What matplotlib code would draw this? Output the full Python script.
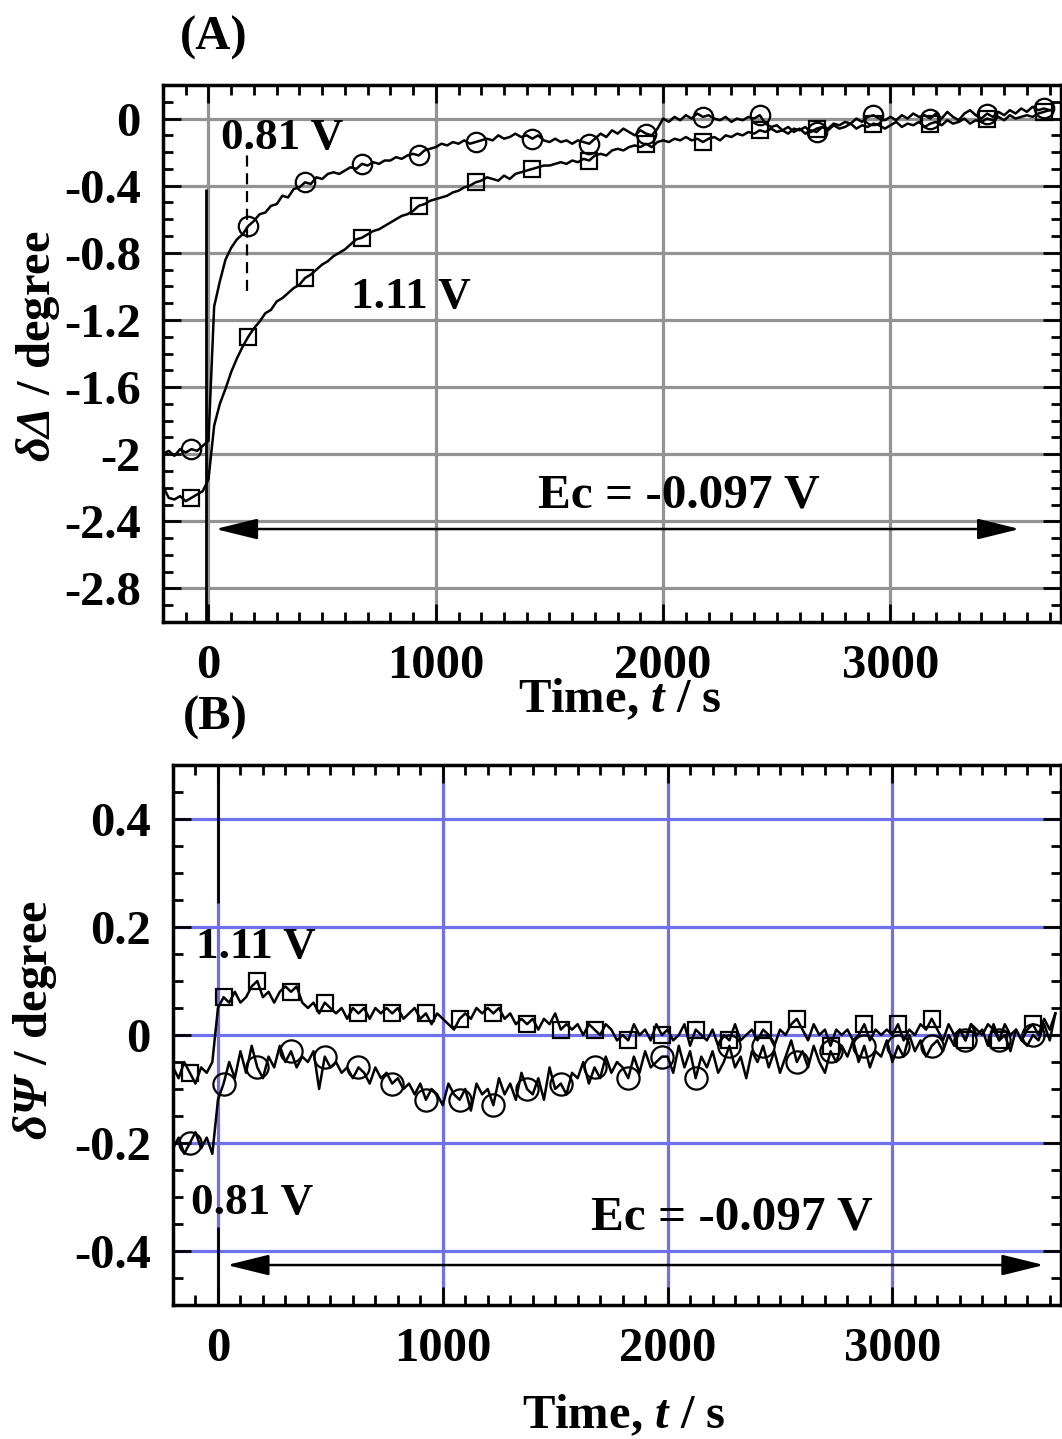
import matplotlib

matplotlib.use("Agg")
import matplotlib.pyplot as plt
import numpy as np
from matplotlib.ticker import FuncFormatter, MultipleLocator

plt.rcParams["font.family"] = "Liberation Serif"
plt.rcParams["font.weight"] = "bold"
plt.rcParams["axes.labelweight"] = "bold"
plt.rcParams["axes.unicode_minus"] = False
plt.rcParams["mathtext.fontset"] = "custom"
plt.rcParams["mathtext.rm"] = "Liberation Serif:italic:bold"
plt.rcParams["mathtext.it"] = "Liberation Serif:italic:bold"
plt.rcParams["mathtext.bf"] = "Liberation Serif:bold"

# time grid (s), one sample every 25 s
time_a = np.arange(-200, 3701, 25)
time_b = np.arange(-200, 3726, 25)

# (A) delta Delta / degree
delta_081 = [
    -2.00, -1.98, -2.01, -1.97, -1.99, -1.97, -1.98, -1.95,
    -1.92, -1.12, -0.97, -0.84, -0.77, -0.72, -0.69, -0.64,
    -0.61, -0.57, -0.56, -0.52, -0.51, -0.46, -0.47, -0.42,
    -0.41, -0.38, -0.39, -0.35, -0.36, -0.33, -0.32, -0.33,
    -0.31, -0.29, -0.30, -0.27, -0.28, -0.26, -0.27, -0.25,
    -0.25, -0.23, -0.24, -0.22, -0.21, -0.22, -0.19, -0.18,
    -0.17, -0.15, -0.16, -0.14, -0.15, -0.13, -0.15, -0.14,
    -0.13, -0.12, -0.13, -0.10, -0.12, -0.11, -0.09, -0.11,
    -0.10, -0.12, -0.10, -0.13, -0.14, -0.12, -0.14, -0.13,
    -0.15, -0.13, -0.14, -0.15, -0.12, -0.09, -0.11, -0.07,
    -0.09, -0.06, -0.08, -0.10, -0.07, -0.09, -0.10, -0.06,
    0.00, -0.02, 0.01, -0.01, 0.02, 0.00, 0.03, 0.01,
    0.02, 0.00, -0.01, 0.01, -0.02, 0.00, -0.01, 0.01,
    0.00, 0.02, -0.03, -0.05, -0.04, -0.07, -0.05, -0.08,
    -0.06, -0.09, -0.07, -0.08, -0.05, -0.06, -0.03, -0.04,
    -0.02, -0.03, 0.00, -0.02, 0.01, 0.02, 0.00, -0.01,
    0.01, -0.01, 0.02, 0.00, 0.03, 0.01, 0.02, 0.00,
    0.03, 0.00, 0.04, 0.01, -0.01, 0.03, 0.05, 0.02,
    0.00, 0.03, 0.01, 0.04, 0.02, 0.05, 0.03, 0.06,
    0.04, 0.07, 0.05, 0.06, 0.05,
]
delta_111 = [
    -2.19, -2.26, -2.27, -2.25, -2.28, -2.26, -2.24, -2.22,
    -2.15, -1.83, -1.70, -1.61, -1.51, -1.43, -1.36, -1.30,
    -1.25, -1.21, -1.16, -1.14, -1.09, -1.07, -1.04, -1.01,
    -0.99, -0.95, -0.93, -0.90, -0.87, -0.85, -0.82, -0.80,
    -0.78, -0.75, -0.72, -0.71, -0.69, -0.67, -0.66, -0.64,
    -0.62, -0.60, -0.58, -0.57, -0.55, -0.52, -0.51, -0.49,
    -0.48, -0.47, -0.46, -0.44, -0.43, -0.41, -0.40, -0.38,
    -0.37, -0.35, -0.36, -0.37, -0.34, -0.36, -0.33, -0.32,
    -0.31, -0.30, -0.29, -0.28, -0.28, -0.27, -0.26, -0.27,
    -0.25, -0.26, -0.24, -0.25, -0.22, -0.21, -0.22, -0.19,
    -0.18, -0.19, -0.17, -0.16, -0.17, -0.15, -0.17, -0.14,
    -0.13, -0.14, -0.12, -0.13, -0.11, -0.13, -0.12, -0.14,
    -0.12, -0.11, -0.13, -0.10, -0.11, -0.09, -0.10, -0.08,
    -0.09, -0.07, -0.08, -0.06, -0.08, -0.07, -0.09, -0.06,
    -0.07, -0.05, -0.08, -0.06, -0.05, -0.07, -0.04, -0.06,
    -0.05, -0.03, -0.06, -0.04, -0.05, -0.03, -0.04, -0.06,
    -0.04, -0.02, -0.05, -0.03, -0.04, -0.02, -0.05, -0.03,
    -0.02, -0.04, -0.01, -0.03, -0.02, 0.00, -0.03, -0.01,
    -0.02, 0.00, -0.01, 0.01, -0.01, 0.02, 0.00, 0.01,
    0.02, 0.01, 0.03, 0.04, 0.05,
]

# (B) delta Psi / degree
psi_081 = [
    -0.21, -0.19, -0.22, -0.20, -0.18, -0.21, -0.19, -0.22,
    -0.12, -0.09, -0.05, -0.08, -0.03, -0.07, -0.02, -0.06,
    -0.08, -0.04, -0.06, -0.02, -0.05, -0.03, -0.06, -0.04,
    -0.05, -0.03, -0.10, -0.04, -0.06, -0.05, -0.07, -0.06,
    -0.08, -0.06, -0.07, -0.09, -0.06, -0.08, -0.07, -0.09,
    -0.08, -0.10, -0.09, -0.11, -0.09, -0.12, -0.10, -0.11,
    -0.13, -0.09, -0.11, -0.12, -0.10, -0.14, -0.09, -0.11,
    -0.10, -0.13, -0.08, -0.11, -0.09, -0.12, -0.07, -0.10,
    -0.11, -0.08, -0.12, -0.06, -0.10, -0.09, -0.11, -0.07,
    -0.08, -0.05, -0.09, -0.06, -0.08, -0.04, -0.07, -0.05,
    -0.06, -0.08, -0.04, -0.07, -0.03, -0.06, -0.05, -0.04,
    -0.04, -0.07, -0.02, -0.06, -0.03, -0.08, -0.04, -0.06,
    -0.03, -0.07, -0.05, -0.02, -0.06, -0.04, -0.08, -0.03,
    -0.05, -0.02, -0.06, -0.03, -0.07, -0.04, -0.01, -0.05,
    -0.03, -0.06, -0.02, -0.05, -0.07, -0.03, -0.05, -0.02,
    -0.04, -0.01, -0.05, -0.02, -0.06, -0.03, -0.04, -0.01,
    -0.05, -0.02, -0.04, 0.00, -0.03, -0.01, -0.04, -0.02,
    -0.01, -0.03, 0.00, -0.02, 0.01, -0.01, 0.02, 0.00,
    0.01, -0.02, 0.02, -0.01, 0.00, -0.03, 0.01, -0.01,
    -0.02, 0.00, -0.01, 0.02, -0.01, 0.04,
]
psi_111 = [
    -0.06, -0.08, -0.05, -0.07, -0.09, -0.06, -0.07, -0.05,
    0.05, 0.07, 0.06, 0.08, 0.06, 0.07, 0.09, 0.10,
    0.07, 0.08, 0.06, 0.08, 0.09, 0.08, 0.09, 0.06,
    0.05, 0.06, 0.04, 0.06, 0.05, 0.04, 0.05, 0.03,
    0.05, 0.04, 0.05, 0.03, 0.05, 0.04, 0.05, 0.04,
    0.05, 0.03, 0.04, 0.05, 0.03, 0.04, 0.02, 0.04,
    0.03, 0.02, 0.01, 0.03, 0.04, 0.03, 0.05, 0.04,
    0.05, 0.04, 0.05, 0.03, 0.04, 0.02, 0.03, 0.02,
    0.03, 0.01, 0.03, 0.02, 0.04, 0.01, 0.02, 0.01,
    0.02, 0.00, 0.02, 0.01, 0.00, 0.02, 0.01, -0.01,
    0.00, -0.01, 0.02, 0.00, 0.01, -0.01, 0.02, 0.00,
    0.01, -0.01, 0.00, 0.02, -0.02, 0.01, 0.00, -0.01,
    0.01, -0.02, 0.00, -0.01, 0.02, -0.01, 0.00, 0.01,
    -0.01, 0.01, 0.00, -0.02, 0.01, 0.00, 0.02, 0.03,
    0.01, -0.01, 0.02, 0.00, 0.01, -0.02, 0.01, 0.00,
    0.01, -0.01, 0.00, 0.02, -0.01, 0.01, 0.00, 0.01,
    0.00, 0.02, -0.01, 0.01, 0.00, 0.02, 0.01, 0.03,
    0.01, -0.01, 0.02, 0.00, 0.01, -0.01, 0.02, 0.01,
    0.00, 0.02, 0.01, -0.01, 0.02, 0.00, 0.01, -0.01,
    0.01, 0.02, 0.00, 0.03, 0.01, 0.04,
]


def fmt(v, pos):
    return f"{round(v, 6) + 0.0:g}"


def style_axes(ax, grid_color, ymajor, yminor, ylim):
    ax.set_xlim(-200, 3750)
    ax.set_ylim(*ylim)
    ax.xaxis.set_major_locator(MultipleLocator(1000))
    ax.xaxis.set_minor_locator(MultipleLocator(100))
    ax.yaxis.set_major_locator(MultipleLocator(ymajor))
    ax.yaxis.set_minor_locator(MultipleLocator(yminor))
    ax.yaxis.set_major_formatter(FuncFormatter(fmt))
    ax.tick_params(which="both", direction="in", top=True, right=True,
                   width=2, labelsize=35, pad=16)
    ax.tick_params(which="major", length=13)
    ax.tick_params(which="minor", length=7)
    ax.grid(True, which="major", color=grid_color, lw=2.3)
    ax.set_axisbelow(True)
    for s in ax.spines.values():
        s.set_linewidth(2.5)


arrow = dict(arrowstyle="<|-|>,head_length=1.3,head_width=0.32",
             color="k", lw=1.8, shrinkA=0, shrinkB=0, mutation_scale=20)

fig = plt.figure(figsize=(10.62, 14.39), dpi=100)

# ---- panel A
ax1 = fig.add_axes([163 / 1062, 1 - 622 / 1439, 898 / 1062, 537 / 1439])
style_axes(ax1, "#939393", 0.4, 0.1, (-3.0, 0.2))
ax1.plot(time_a, delta_081, color="k", lw=1.8, marker="o", ms=14,
         mfc="none", mec="k", mew=1.6, markevery=(5, 10))
ax1.plot(time_a, delta_111, color="k", lw=1.8, marker="s", ms=11,
         mfc="none", mec="k", mew=1.6, markevery=(5, 10))
ax1.vlines(-10, -3.0, -0.42, color="k", lw=2)
ax1.vlines(170, -1.03, -0.16, color="k", lw=1.6, linestyles=(0, (5, 3)))
ax1.text(53, -0.179, "0.81 V", fontsize=32.5, va="baseline")
ax1.text(626, -1.131, "1.11 V", fontsize=32.5, va="baseline")
ax1.text(1449, -2.32, "Ec = -0.097 V", fontsize=35.5, va="baseline")
ax1.annotate("", xy=(31, -2.446), xytext=(3568, -2.446), arrowprops=arrow)
ax1.set_xlabel("Time, $t$ / s", fontsize=35, va="baseline")
ax1.xaxis.set_label_coords(0.509, -0.1676)

# ---- panel B
ax2 = fig.add_axes([173 / 1062, 1 - 1305 / 1439, 888 / 1062, 540 / 1439])
style_axes(ax2, "#7070ea", 0.2, 0.05, (-0.5, 0.5))
ax2.plot(time_b, psi_081, color="k", lw=1.8, marker="o", ms=16,
         mfc="none", mec="k", mew=1.6, markevery=(3, 6))
ax2.plot(time_b, psi_111, color="k", lw=1.8, marker="s", ms=12,
         mfc="none", mec="k", mew=1.6, markevery=(3, 6))
ax2.vlines(0, 0.244, 0.5, color="k", lw=2)
ax2.vlines(0, -0.5, -0.356, color="k", lw=2)
ax2.text(-98, 0.143, "1.11 V", fontsize=32.5, va="baseline")
ax2.text(-120, -0.331, "0.81 V", fontsize=32.5, va="baseline")
ax2.text(1659, -0.361, "Ec = -0.097 V", fontsize=35.5, va="baseline")
ax2.annotate("", xy=(40, -0.426), xytext=(3674, -0.426), arrowprops=arrow)
ax2.set_xlabel("Time, $t$ / s", fontsize=35, va="baseline")
ax2.xaxis.set_label_coords(0.508, -0.228)

# axis titles and panel letters
fig.text(38 / 1062, 1 - 346 / 1439, r"$\delta\Delta$ / degree",
         rotation=90, ha="center", va="center", fontsize=35)
fig.text(35 / 1062, 1 - 1020 / 1439, r"$\delta\Psi$ / degree",
         rotation=90, ha="center", va="center", fontsize=35)
fig.text(180 / 1062, 1 - 50 / 1439, "(A)", fontsize=35, va="baseline")
fig.text(183 / 1062, 1 - 730 / 1439, "(B)", fontsize=35, va="baseline")

fig.savefig("out.png", dpi=100)
